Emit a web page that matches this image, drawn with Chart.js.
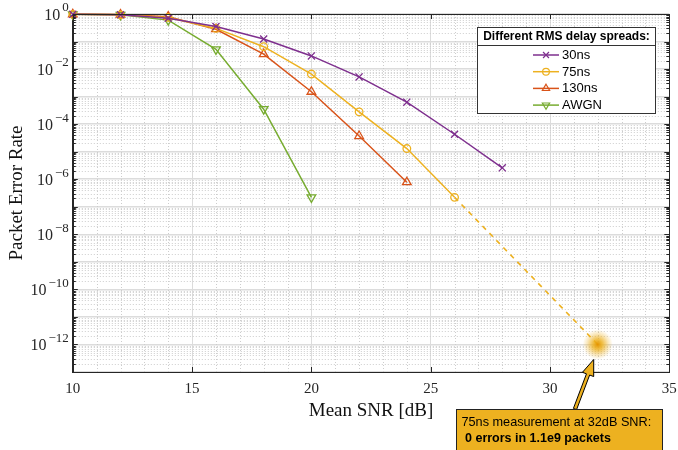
<!DOCTYPE html>
<html><head><meta charset="utf-8">
<script src="https://cdn.jsdelivr.net/npm/chart.js@4/dist/chart.umd.min.js"></script>
<style>html,body{margin:0;padding:0;background:#fff}#wrap{width:678px;height:450px;position:relative}</style>
</head><body><div id="wrap"><canvas id="c"></canvas></div>
<script>
// ---------- data ----------
const snr30 = [10, 12, 14, 16, 18, 20, 22, 24, 26, 28];
const per30 = [0.97, 0.93, 0.70, 0.35, 0.124, 0.030, 5.2e-3, 6.3e-4, 4.3e-5, 2.6e-6];
const snr75 = [10, 12, 14, 16, 18, 20, 22, 24, 26];
const per75 = [0.97, 0.93, 0.75, 0.30, 0.065, 6.6e-3, 2.8e-4, 1.3e-5, 2.2e-7];
const snr130 = [10, 12, 14, 16, 18, 20, 22, 24];
const per130 = [0.98, 0.95, 0.80, 0.28, 0.035, 1.5e-3, 3.7e-5, 7.8e-7];
const snrAwgn = [10, 12, 14, 16, 18, 20];
const perAwgn = [0.97, 0.93, 0.60, 0.052, 3.5e-4, 2.2e-7];
const extrapSnr = [26, 32];
const extrapPer = [2.2e-7, 1e-12];
const measSnr = 32;
const measPer = 1e-12;
const seriesNames = ['30ns', '75ns', '130ns', 'AWGN'];
const legendTitle = 'Different RMS delay spreads:';
const noteLine1 = '75ns measurement at 32dB SNR:';
const noteLine2 = '0 errors in 1.1e9 packets';
const xTickValues = [10, 15, 20, 25, 30, 35];
const yLabelExps = [0, -2, -4, -6, -8, -10, -12];
const yDecadeExps = [0, -1, -2, -3, -4, -5, -6, -7, -8, -9, -10, -11, -12, -13];
const xTitle = 'Mean SNR [dB]';
const yTitle = 'Packet Error Rate';

// ---------- styles ----------
const C_PURPLE = '#7E2F8E', C_GOLD = '#EDB120', C_RED = '#D95319', C_GREEN = '#77AC30';
const SERIF = '"Liberation Serif", "DejaVu Serif", serif';
const SANS = '"Liberation Sans", Arial, sans-serif';
const AXIS = '#262626';

const pts = (xs, ys) => xs.map((x, i) => ({x, y: ys[i]}));
const mk = (label, xs, ys, color, style, r, rot) => ({
  label, data: pts(xs, ys), borderColor: color, backgroundColor: 'rgba(0,0,0,0)',
  borderWidth: 1.5, pointStyle: style, pointRadius: r, pointRotation: rot || 0,
  pointBorderColor: color, pointBackgroundColor: 'rgba(0,0,0,0)', pointBorderWidth: 1.3,
  clip: false, tension: 0
});

const datasets = [
  {label: 'extrapolation', data: pts(extrapSnr, extrapPer), borderColor: C_GOLD, borderWidth: 1.6,
   borderDash: [5, 5], pointRadius: 0, clip: false, order: 5},
  mk(seriesNames[0], snr30, per30, C_PURPLE, 'crossRot', 5),
  mk(seriesNames[1], snr75, per75, C_GOLD, 'circle', 3.8),
  mk(seriesNames[2], snr130, per130, C_RED, 'triangle', 5),
  mk(seriesNames[3], snrAwgn, perAwgn, C_GREEN, 'triangle', 5, 180)
];

function markerAt(ctx, style, r, rot, x, y, color) {
  ctx.save();
  ctx.strokeStyle = color; ctx.fillStyle = 'rgba(0,0,0,0)'; ctx.lineWidth = 1.2;
  if (Chart.helpers && Chart.helpers.drawPoint) {
    Chart.helpers.drawPoint(ctx, {pointStyle: style, radius: r, rotation: rot || 0, borderWidth: 1.2}, x, y);
  } else {
    ctx.beginPath(); ctx.arc(x, y, r, 0, Math.PI * 2); ctx.stroke();
  }
  ctx.restore();
}

const decoPlugin = {
  id: 'deco',
  beforeDatasetsDraw(chart) {
    const {ctx, chartArea: a, scales: {x, y}} = chart;
    ctx.save();
    ctx.beginPath(); ctx.rect(a.left, a.top, a.right - a.left, a.bottom - a.top); ctx.clip();
    ctx.strokeStyle = '#cdcdcd'; ctx.lineWidth = 1; ctx.setLineDash([1, 2]);
    for (const e of yDecadeExps) {
      for (let m = 2; m <= 9; m++) {
        const v = m * Math.pow(10, e);
        if (v > 1) continue;
        const py = Math.round(y.getPixelForValue(v)) + 0.5;
        ctx.beginPath(); ctx.moveTo(a.left, py); ctx.lineTo(a.right, py); ctx.stroke();
      }
    }
    for (let v = 11; v < 35; v++) {
      if (v % 5 === 0) continue;
      const px = Math.round(x.getPixelForValue(v)) + 0.5;
      ctx.beginPath(); ctx.moveTo(px, a.top); ctx.lineTo(px, a.bottom); ctx.stroke();
    }
    ctx.restore();
  },
  afterDatasetsDraw(chart) {
    const {ctx, chartArea: a, scales: {x, y}} = chart;
    const gx = x.getPixelForValue(measSnr), gy = y.getPixelForValue(measPer);
    ctx.save();
    const g = ctx.createRadialGradient(gx, gy, 0, gx, gy, 15);
    g.addColorStop(0, 'rgba(228,148,0,1)');
    g.addColorStop(0.3, 'rgba(237,177,32,0.85)');
    g.addColorStop(0.7, 'rgba(237,177,32,0.3)');
    g.addColorStop(1, 'rgba(237,177,32,0)');
    ctx.fillStyle = g; ctx.beginPath(); ctx.arc(gx, gy, 15, 0, Math.PI * 2); ctx.fill();
    ctx.restore();

    ctx.save();
    ctx.strokeStyle = AXIS; ctx.lineWidth = 1;
    ctx.strokeRect(Math.round(a.left) + 0.5, Math.round(a.top) + 0.5, Math.round(a.right - a.left) - 1, Math.round(a.bottom - a.top));
    ctx.beginPath();
    for (const e of yDecadeExps) {
      for (let m = 1; m <= 9; m++) {
        const v = m * Math.pow(10, e);
        if (v > 1) continue;
        const py = Math.round(y.getPixelForValue(v)) + 0.5;
        const len = m === 1 ? 5 : 3;
        ctx.moveTo(a.left, py); ctx.lineTo(a.left + len, py);
        ctx.moveTo(a.right, py); ctx.lineTo(a.right - len, py);
      }
    }
    for (const v of xTickValues) {
      const px = Math.round(x.getPixelForValue(v)) + 0.5;
      ctx.moveTo(px, a.bottom); ctx.lineTo(px, a.bottom - 5);
      ctx.moveTo(px, a.top); ctx.lineTo(px, a.top + 5);
    }
    ctx.stroke();
    ctx.restore();

    ctx.save();
    ctx.fillStyle = AXIS; ctx.textBaseline = 'middle';
    for (const e of yLabelExps) {
      const py = y.getPixelForValue(Math.pow(10, e));
      const sup = e === 0 ? '0' : '\u2212' + String(-e);
      ctx.font = '13px ' + SERIF;
      const sw = ctx.measureText(sup).width;
      const right = a.left - 4;
      ctx.textAlign = 'left';
      ctx.fillText(sup, right - sw, py - 6);
      ctx.font = '16px ' + SERIF;
      ctx.textAlign = 'right';
      ctx.fillText('10', right - sw - 2, py + 1.5);
    }
    ctx.restore();
  },
  afterDraw(chart) {
    const {ctx, scales: {x, y}} = chart;
    ctx.save();
    const L = 477.5, T = 27.5, R = 655.5, B = 113.5;
    ctx.fillStyle = '#fff'; ctx.fillRect(L, T, R - L, B - T);
    ctx.strokeStyle = '#333'; ctx.lineWidth = 1; ctx.strokeRect(L, T, R - L, B - T);
    ctx.beginPath(); ctx.moveTo(L, 45.5); ctx.lineTo(R, 45.5); ctx.stroke();
    ctx.fillStyle = '#000'; ctx.font = 'bold 12px ' + SANS; ctx.textAlign = 'center'; ctx.textBaseline = 'middle';
    ctx.fillText(legendTitle, (L + R) / 2, 37);
    const rows = [55, 71.7, 88.4, 105.1];
    const specs = datasets.slice(1);
    ctx.font = '13px ' + SANS; ctx.textAlign = 'left';
    specs.forEach((d, i) => {
      const yy = rows[i];
      ctx.strokeStyle = d.borderColor; ctx.lineWidth = 1.5;
      ctx.beginPath(); ctx.moveTo(533, yy); ctx.lineTo(559, yy); ctx.stroke();
      markerAt(ctx, d.pointStyle, d.pointStyle === 'circle' ? 3.4 : 4.2, d.pointRotation, 546, yy, d.borderColor);
      ctx.fillStyle = '#000';
      ctx.fillText(d.label, 562, yy + 0.5);
    });
    ctx.restore();

    const gx = x.getPixelForValue(measSnr), gy = y.getPixelForValue(measPer);
    const tip = {x: gx - 4, y: gy + 15}, tail = {x: 575, y: 409};
    const dx = tip.x - tail.x, dy = tip.y - tail.y, len = Math.hypot(dx, dy);
    const ux = dx / len, uy = dy / len, nx = -uy, ny = ux;
    const hl = 16, hw = 6, sw = 1.7;
    const nk = {x: tip.x - ux * hl, y: tip.y - uy * hl};
    ctx.save();
    ctx.beginPath();
    ctx.moveTo(tail.x + nx * sw, tail.y + ny * sw);
    ctx.lineTo(nk.x + nx * sw, nk.y + ny * sw);
    ctx.lineTo(nk.x + nx * hw, nk.y + ny * hw);
    ctx.lineTo(tip.x, tip.y);
    ctx.lineTo(nk.x - nx * hw, nk.y - ny * hw);
    ctx.lineTo(nk.x - nx * sw, nk.y - ny * sw);
    ctx.lineTo(tail.x - nx * sw, tail.y - ny * sw);
    ctx.closePath();
    ctx.fillStyle = C_GOLD; ctx.fill();
    ctx.strokeStyle = '#000'; ctx.lineWidth = 1; ctx.stroke();

    ctx.fillStyle = C_GOLD; ctx.fillRect(456.5, 409.5, 206, 45);
    ctx.strokeStyle = '#222'; ctx.strokeRect(456.5, 409.5, 206, 45);
    ctx.fillStyle = '#000'; ctx.textAlign = 'left'; ctx.textBaseline = 'middle';
    ctx.font = '12.7px ' + SANS;
    ctx.fillText(noteLine1, 461.5, 422.5);
    ctx.font = 'bold 12.5px ' + SANS;
    ctx.fillText(noteLine2, 465, 438.5);
    ctx.restore();
  }
};

new Chart(document.getElementById('c'), {
  type: 'line',
  data: {datasets},
  options: {
    responsive: true, maintainAspectRatio: false, animation: false,
    layout: {padding: {left: 6, top: 14, right: 8.7, bottom: 28}},
    plugins: {legend: {display: false}, tooltip: {enabled: false}},
    scales: {
      x: {
        type: 'linear', min: 10, max: 35,
        afterBuildTicks: s => { s.ticks = xTickValues.map(v => ({value: v})); },
        ticks: {font: {family: SERIF, size: 15}, color: AXIS, padding: 8, maxRotation: 0, autoSkip: false},
        grid: {color: '#dcdcdc', lineWidth: 1, drawTicks: false},
        border: {display: true, color: AXIS, width: 1},
        title: {display: true, text: xTitle, font: {family: SERIF, size: 19}, color: '#111', padding: 0},
        afterFit: s => { s.height = 50; s.paddingLeft = 0; s.paddingRight = 0; }
      },
      y: {
        type: 'logarithmic', min: 1e-13, max: 1,
        afterBuildTicks: s => { s.ticks = yDecadeExps.map(e => ({value: Math.pow(10, e)})); },
        ticks: {display: false},
        grid: {color: '#dcdcdc', lineWidth: 1.5, drawTicks: false},
        border: {display: true, color: AXIS, width: 1},
        title: {display: true, text: yTitle, font: {family: SERIF, size: 19}, color: '#111', padding: 0},
        afterFit: s => { s.width = 66.8; s.paddingTop = 0; s.paddingBottom = 0; }
      }
    }
  },
  plugins: [decoPlugin]
});
</script>
</body></html>
